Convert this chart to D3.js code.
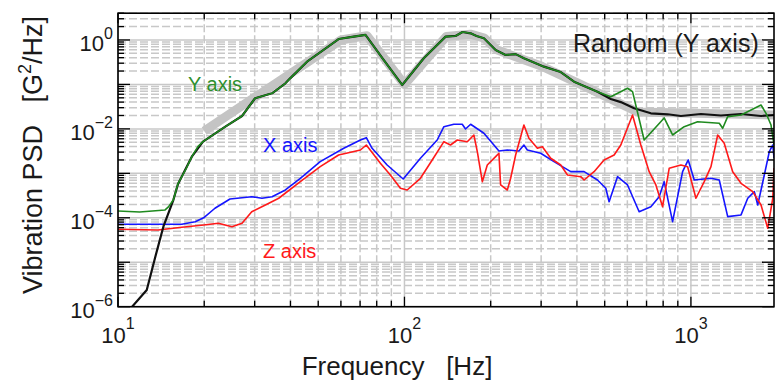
<!DOCTYPE html>
<html>
<head>
<meta charset="utf-8">
<script src="https://cdn.jsdelivr.net/npm/d3@7"></script>
<style>
  body { margin: 0; background: #fff; }
  text { font-family: "Liberation Sans", Arial, sans-serif; fill: #1a1a1a; }
</style>
</head>
<body>
<svg width="776" height="380"></svg>
<script>
// Readings: frequency [Hz] and PSD [G^2/Hz]
const specFreq = [20, 60, 74, 100, 140, 170, 190, 210, 300, 400, 525, 650, 1950];
const specPsd  = [9e-3, 1.0, 1.25, 0.1, 1.2, 1.35, 1.1, 0.6, 0.26, 0.11, 0.047, 0.024, 0.0205];

const blackFreq = [11.2, 12.6, 13.5, 14.4, 15.6, 16.2, 18.1, 19.8, 23.7, 27.1, 30.1, 34.5, 38.4, 39.9, 45.7, 52.2,
                   58.9, 66.5, 73.1, 84.6, 98.2, 116.8, 139.2, 150.8, 159.5, 170.2, 178.5, 189.4, 208.1, 225.5,
                   244.4, 261.2, 306.9, 351.2, 390.9, 471.9, 525.2, 569.2, 633.6, 724.7, 828.9, 922.6, 1084,
                   1273, 1496, 1757, 1950];
const blackPsd  = [1e-6, 2.38e-6, 1.33e-5, 6.31e-5, 2.51e-4, 5.75e-4, 2.37e-3, 5.15e-3, 1.12e-2, 1.95e-2, 4.88e-2,
                   6.32e-2, 0.106, 0.137, 0.325, 0.596, 1.05, 1.19, 1.3, 0.355, 0.0972, 0.388, 1.19, 1.23, 1.51,
                   1.41, 1.23, 1.09, 0.596, 0.46, 0.48, 0.388, 0.251, 0.19, 0.115, 0.0687, 0.047, 0.040, 0.029,
                   0.0224, 0.0213, 0.0195, 0.0216, 0.020, 0.0216, 0.0195, 0.0205];

const greenFreq = [10, 11.9, 14.6, 15.0, 15.6, 16.2, 17.2, 18.1, 19.0, 19.8, 23.7, 27.1, 30.1, 34.5, 38.4, 39.9,
                   45.7, 52.2, 58.9, 66.5, 73.1, 84.6, 98.2, 116.8, 139.2, 150.8, 159.5, 170.2, 178.5, 189.4,
                   208.1, 225.5, 244.4, 261.2, 306.9, 351.2, 390.9, 471.9, 525.2, 600.8, 625.5, 686.7, 806.6,
                   863.0, 947.5, 1055, 1256, 1291, 1344, 1496, 1757, 1829, 1904, 1950];
const greenPsd  = [1.42e-4, 1.35e-4, 1.5e-4, 1.76e-4, 2.51e-4, 5.9e-4, 1.19e-3, 2.37e-3, 3.98e-3, 5.15e-3,
                   1.12e-2, 1.95e-2, 4.88e-2, 6.32e-2, 0.106, 0.137, 0.325, 0.596, 1.05, 1.19, 1.3, 0.355,
                   0.0972, 0.388, 1.19, 1.23, 1.51, 1.41, 1.23, 1.09, 0.596, 0.46, 0.48, 0.388, 0.251, 0.19,
                   0.115, 0.0687, 0.053, 0.0819, 0.0687, 5.62e-3, 1.76e-2, 7.29e-3, 1.12e-2, 1.45e-2, 1.34e-2,
                   1.03e-2, 1.88e-2, 2.05e-2, 3.45e-2, 2.24e-2, 1.22e-2, 4.34e-3];

const blueFreq = [10, 16.7, 18.6, 19.9, 21.8, 24.6, 29.3, 31.8, 34.5, 38.4, 43.3, 50.8, 61.4, 70.2, 73.6, 77.1,
                  87.0, 99.0, 113.7, 130.1, 137.3, 148.7, 159.1, 163.4, 170.2, 189.4, 205.2, 213.7, 228.6, 250.9,
                  261.2, 268.5, 298.9, 332.7, 380.6, 423.7, 471.9, 504.5, 518.1, 554.3, 600.8, 659.6, 724.7,
                  774.9, 806.6, 863.0, 935.4, 978.6, 1027, 1175, 1256, 1344, 1496, 1579, 1665, 1711, 1804,
                  1878, 1931, 1950];
const bluePsd  = [7.14e-5, 7.14e-5, 8.17e-5, 1.0e-4, 1.64e-4, 2.65e-4, 2.98e-4, 2.75e-4, 2.98e-4, 4.22e-4, 7.74e-4,
                  1.83e-3, 3.66e-3, 5.62e-3, 6.34e-3, 3.66e-3, 1.54e-3, 7.46e-4, 2.18e-3, 5.62e-3, 1.12e-2,
                  1.27e-2, 1.27e-2, 9.95e-3, 1.27e-2, 7.96e-3, 4.34e-3, 3.18e-3, 3.35e-3, 3.18e-3, 4.34e-3,
                  3.35e-3, 2.83e-3, 1.83e-3, 1.09e-3, 1.09e-3, 7.08e-4, 4.61e-4, 2.30e-4, 8.41e-4, 5.47e-4,
                  1.37e-4, 1.78e-4, 2.98e-4, 6.49e-4, 8.17e-5, 1.09e-3, 2.0e-3, 7.08e-4, 7.74e-4, 7.08e-4,
                  1.06e-4, 1.16e-4, 2.75e-4, 3.87e-4, 1.94e-4, 9.18e-4, 3.07e-3, 4.34e-3, 2.21e-3];

const redFreq = [10, 13.8, 16.7, 19.9, 22.4, 25.0, 27.1, 29.3, 32.7, 36.4, 43.3, 50.8, 58.9, 70.2, 73.6, 82.4,
                 89.3, 96.8, 102.2, 113.7, 125.0, 137.3, 144.8, 152.9, 165.7, 174.7, 179.6, 187.0, 194.6, 208.1,
                 213.7, 216.6, 228.6, 234.8, 244.4, 261.2, 272.0, 291.1, 303.0, 324.0, 351.2, 370.7, 412.6,
                 423.7, 459.1, 497.6, 539.4, 569.2, 625.5, 668.7, 714.9, 754.5, 796.3, 839.7, 922.6, 973.9,
                 1041, 1113, 1175, 1240, 1307, 1399, 1496, 1643, 1757, 1854, 1931, 1950];
const redPsd  = [5.51e-5, 5.32e-5, 6.11e-5, 6.89e-5, 7.52e-5, 6.31e-5, 7.52e-5, 1.37e-4, 1.94e-4, 2.75e-4,
                 6.49e-4, 1.41e-3, 2.59e-3, 3.35e-3, 4.34e-3, 1.68e-3, 9.18e-4, 4.61e-4, 4.22e-4, 7.74e-4,
                 2.0e-3, 5.15e-3, 4.34e-3, 5.62e-3, 5.15e-3, 7.29e-3, 3.07e-3, 6.49e-4, 1.54e-3, 2.37e-3,
                 2.83e-3, 5.47e-4, 4.22e-4, 7.74e-4, 2.59e-3, 1.22e-2, 6.15e-3, 3.66e-3, 3.98e-3, 2.18e-3,
                 1.54e-3, 9.18e-4, 8.41e-4, 7.08e-4, 1.09e-3, 2.0e-3, 2.59e-3, 4.34e-3, 2.05e-2, 4.34e-3,
                 1.09e-3, 5.47e-4, 1.78e-4, 1.30e-3, 1.54e-3, 1.41e-3, 2.75e-4, 6.49e-4, 1.41e-3, 7.29e-3,
                 4.74e-3, 1.09e-3, 5.97e-4, 3.87e-4, 1.94e-4, 5.81e-5, 2.75e-4, 1.32e-3];

// Tick labels (powers of ten)
const xTickExp = [1, 2, 3];
const yTickExp = [0, -2, -4, -6];

// Plot frame
const plotLeft = 118, plotRight = 774, plotTop = 13.2, plotBottom = 306.7;
const svg = d3.select("svg");

const xScale = d3.scaleLog().domain([10, 1950]).range([plotLeft, plotRight]);
const yScale = d3.scaleLog().domain([1e-6, 4]).range([plotBottom, plotTop]);

// Major / minor positions for grid and ticks
const xMajor = [10, 100, 1000];
const xMinor = [];
xMajor.forEach(d => { for (let m = 2; m <= 9; m++) if (m * d <= 1950) xMinor.push(m * d); });
const yMajor = d3.range(-6, 1).map(k => Math.pow(10, k));
const yMinor = [];
yMajor.forEach(d => { for (let m = 2; m <= 9; m++) if (m * d <= 4) yMinor.push(m * d); });

// Grid
const grid = svg.append("g");
grid.selectAll(".vmin").data(xMinor).enter().append("line")
    .attr("x1", d => xScale(d)).attr("x2", d => xScale(d))
    .attr("y1", plotTop).attr("y2", plotBottom)
    .attr("stroke", "#c8c8c8").attr("stroke-width", 1.5).attr("stroke-dasharray", "8,3");
grid.selectAll(".hmin").data(yMinor).enter().append("line")
    .attr("y1", d => yScale(d)).attr("y2", d => yScale(d))
    .attr("x1", plotLeft).attr("x2", plotRight)
    .attr("stroke", "#c8c8c8").attr("stroke-width", 1.5).attr("stroke-dasharray", "8,3");
grid.selectAll(".vmaj").data(xMajor).enter().append("line")
    .attr("x1", d => xScale(d)).attr("x2", d => xScale(d))
    .attr("y1", plotTop).attr("y2", plotBottom)
    .attr("stroke", "#c8c8c8").attr("stroke-width", 1.5);
grid.selectAll(".hmaj").data(yMajor).enter().append("line")
    .attr("y1", d => yScale(d)).attr("y2", d => yScale(d))
    .attr("x1", plotLeft).attr("x2", plotRight)
    .attr("stroke", "#c8c8c8").attr("stroke-width", 1.5);

// Curves
svg.append("clipPath").attr("id", "plot")
  .append("rect").attr("x", plotLeft).attr("y", plotTop)
    .attr("width", plotRight - plotLeft).attr("height", plotBottom - plotTop);

const line = d3.line().x(d => xScale(d[0])).y(d => yScale(d[1]));
const curves = svg.append("g").attr("clip-path", "url(#plot)").attr("fill", "none")
    .attr("stroke-linejoin", "round");

curves.append("path").datum(d3.zip(specFreq, specPsd)).attr("d", line)
    .attr("stroke", "#c4c4c4").attr("stroke-width", 9);
curves.append("path").datum(d3.zip(blueFreq, bluePsd)).attr("d", line)
    .attr("stroke", "#1515ff").attr("stroke-width", 1.6);
curves.append("path").datum(d3.zip(redFreq, redPsd)).attr("d", line)
    .attr("stroke", "#ff1a1a").attr("stroke-width", 1.6);
curves.append("path").datum(d3.zip(blackFreq, blackPsd)).attr("d", line)
    .attr("stroke", "#111").attr("stroke-width", 2.2);
curves.append("path").datum(d3.zip(greenFreq, greenPsd)).attr("d", line)
    .attr("stroke", "#1f8a1f").attr("stroke-width", 1.6);

// Frame and inward ticks on all four sides
svg.append("rect").attr("x", plotLeft).attr("y", plotTop)
    .attr("width", plotRight - plotLeft).attr("height", plotBottom - plotTop)
    .attr("fill", "none").attr("stroke", "#000").attr("stroke-width", 1.6);

const ticks = svg.append("g").attr("stroke", "#000").attr("stroke-width", 1.3);
[[xMajor, 10], [xMinor, 6]].forEach(([vals, len]) => {
  vals.forEach(d => {
    const x = xScale(d);
    ticks.append("line").attr("x1", x).attr("x2", x).attr("y1", plotBottom).attr("y2", plotBottom - len);
    ticks.append("line").attr("x1", x).attr("x2", x).attr("y1", plotTop).attr("y2", plotTop + len);
  });
});
[[yMajor, 12], [yMinor, 6]].forEach(([vals, len]) => {
  vals.forEach(d => {
    const y = yScale(d);
    ticks.append("line").attr("y1", y).attr("y2", y).attr("x1", plotLeft).attr("x2", plotLeft + len);
    ticks.append("line").attr("y1", y).attr("y2", y).attr("x1", plotRight).attr("x2", plotRight - len);
  });
});

// Tick labels with superscripts
const fmtExp = e => String(e).replace("-", "\u2212");
xTickExp.forEach(e => {
  const t = svg.append("text").attr("x", xScale(Math.pow(10, e))).attr("y", 343)
      .attr("text-anchor", "middle").style("font-size", "22px");
  t.append("tspan").text("10");
  t.append("tspan").attr("dy", -14).style("font-size", "16px").text(fmtExp(e));
});
yTickExp.forEach(e => {
  const t = svg.append("text").attr("x", 113).attr("y", yScale(Math.pow(10, e)) + 11)
      .attr("text-anchor", "end").style("font-size", "22px");
  t.append("tspan").text("10");
  t.append("tspan").attr("dy", -12).style("font-size", "16px").text(fmtExp(e));
});

// Axis titles
svg.append("text").attr("x", 397).attr("y", 375).attr("text-anchor", "middle")
    .style("font-size", "26px").style("white-space", "pre").text("Frequency   [Hz]");

const yTitle = svg.append("text").attr("transform", "rotate(-90)")
    .attr("x", -155).attr("y", 42).attr("text-anchor", "middle")
    .style("font-size", "27px").style("white-space", "pre");
yTitle.append("tspan").text("Vibration PSD   [G");
yTitle.append("tspan").attr("dy", -11).style("font-size", "18px").text("2");
yTitle.append("tspan").attr("dy", 11).text("/Hz]");

// Annotations
svg.append("text").attr("x", 573).attr("y", 52).style("font-size", "25px").text("Random (Y axis)");
svg.append("text").attr("x", 188).attr("y", 91).style("font-size", "20px").style("fill", "#2e8f2e").text("Y axis");
svg.append("text").attr("x", 263).attr("y", 152).style("font-size", "20px").style("fill", "#1515ff").text("X axis");
svg.append("text").attr("x", 263).attr("y", 258).style("font-size", "20px").style("fill", "#ff1a1a").text("Z axis");
</script>
</body>
</html>
